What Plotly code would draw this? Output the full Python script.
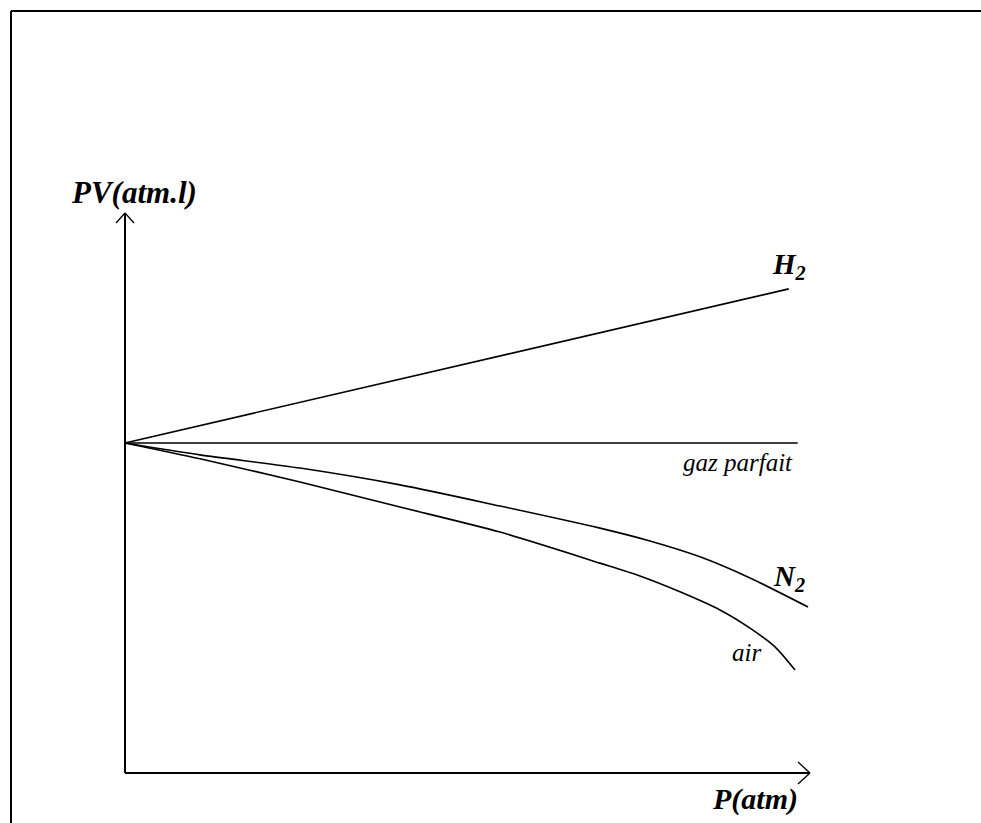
import plotly.graph_objects as go

# ---- data (P in arbitrary units, PV in units of the ideal-gas value) ----
P_h2 = [0.0, 9.69]
PV_h2 = [1.0, 1.467]

P_ideal = [0.0, 9.82]
PV_ideal = [1.0, 1.0]

P_n2 = [0.0, 1.095, 2.555, 4.015, 5.474, 6.934, 7.664, 8.394, 9.124, 9.971]
PV_n2 = [1.0, 0.964, 0.924, 0.873, 0.809, 0.742, 0.703, 0.655, 0.591, 0.503]

P_air = [0.0, 1.095, 2.555, 4.015, 5.474, 6.934, 7.518, 8.102, 8.686, 9.124, 9.489, 9.781]
PV_air = [1.0, 0.952, 0.882, 0.806, 0.730, 0.636, 0.597, 0.549, 0.494, 0.439, 0.382, 0.312]

P_max = 10.0
PV_max = 1.697

# ---- layout geometry ----
W, H = 981, 823
X0, Y0 = 125, 773          # pixel position of origin
SX, SY = 68.5, 330.0       # pixels per data unit

def dx(px):
    return (px - X0) / SX

def dy(py):
    return (Y0 - py) / SY

xr = [dx(0), dx(W)]
yr = [dy(H), dy(0)]

fig = go.Figure()
line = dict(color="black", width=1.6)
curve = dict(color="black", width=1.6, shape="spline", smoothing=0.7)
fig.add_trace(go.Scatter(x=P_h2, y=PV_h2, mode="lines", line=line, name="H2"))
fig.add_trace(go.Scatter(x=P_ideal, y=PV_ideal, mode="lines", line=line, name="gaz parfait"))
fig.add_trace(go.Scatter(x=P_n2, y=PV_n2, mode="lines", line=curve, name="N2"))
fig.add_trace(go.Scatter(x=P_air, y=PV_air, mode="lines", line=curve, name="air"))

shapes = []
ax = dict(type="line", xref="x", yref="y", line=dict(color="black", width=2))
# axes
shapes.append(dict(ax, x0=0, y0=0, x1=0, y1=PV_max))
shapes.append(dict(ax, x0=0, y0=0, x1=P_max, y1=0))
# arrowheads (open V)
thin = dict(type="line", xref="x", yref="y", line=dict(color="black", width=1.3))
shapes.append(dict(thin, x0=0, y0=PV_max, x1=-9 / SX, y1=PV_max - 10 / SY))
shapes.append(dict(thin, x0=0, y0=PV_max, x1=9 / SX, y1=PV_max - 10 / SY))
shapes.append(dict(thin, x0=P_max, y0=0, x1=P_max - 12 / SX, y1=11 / SY))
shapes.append(dict(thin, x0=P_max, y0=0, x1=P_max - 12 / SX, y1=-11 / SY))
# frame (top and left edges)
fr = dict(type="line", xref="paper", yref="paper", line=dict(color="black", width=2))
shapes.append(dict(fr, x0=11 / W, y0=1 - 11 / H, x1=1, y1=1 - 11 / H))
shapes.append(dict(fr, x0=11 / W, y0=1 - 11 / H, x1=11 / W, y1=0))

serif = "Liberation Serif"

def label(text, px, py, size, bold=True):
    t = f"<b><i>{text}</i></b>" if bold else f"<i>{text}</i>"
    return dict(x=dx(px), y=dy(py), xref="x", yref="y", text=t, showarrow=False,
                xanchor="center", yanchor="middle",
                font=dict(family=serif, size=size, color="black"))

annotations = [
    label("PV(atm.l)", 134, 192, 31),
    label("H<sub>2</sub>", 789, 266, 29),
    label("gaz parfait", 738, 462, 25, bold=False),
    label("N<sub>2</sub>", 789, 578, 29),
    label("air", 746, 652, 25, bold=False),
    label("P(atm)", 755, 799, 30),
]

fig.update_layout(
    width=W, height=H, autosize=False,
    margin=dict(l=0, r=0, t=0, b=0),
    paper_bgcolor="white", plot_bgcolor="white",
    showlegend=False,
    xaxis=dict(range=xr, visible=False, fixedrange=True),
    yaxis=dict(range=yr, visible=False, fixedrange=True),
    shapes=shapes,
    annotations=annotations,
)

fig.write_html(
    "out.html",
    config={"displayModeBar": False},
    post_script="document.body.style.margin='0';document.body.style.overflow='hidden';",
)
